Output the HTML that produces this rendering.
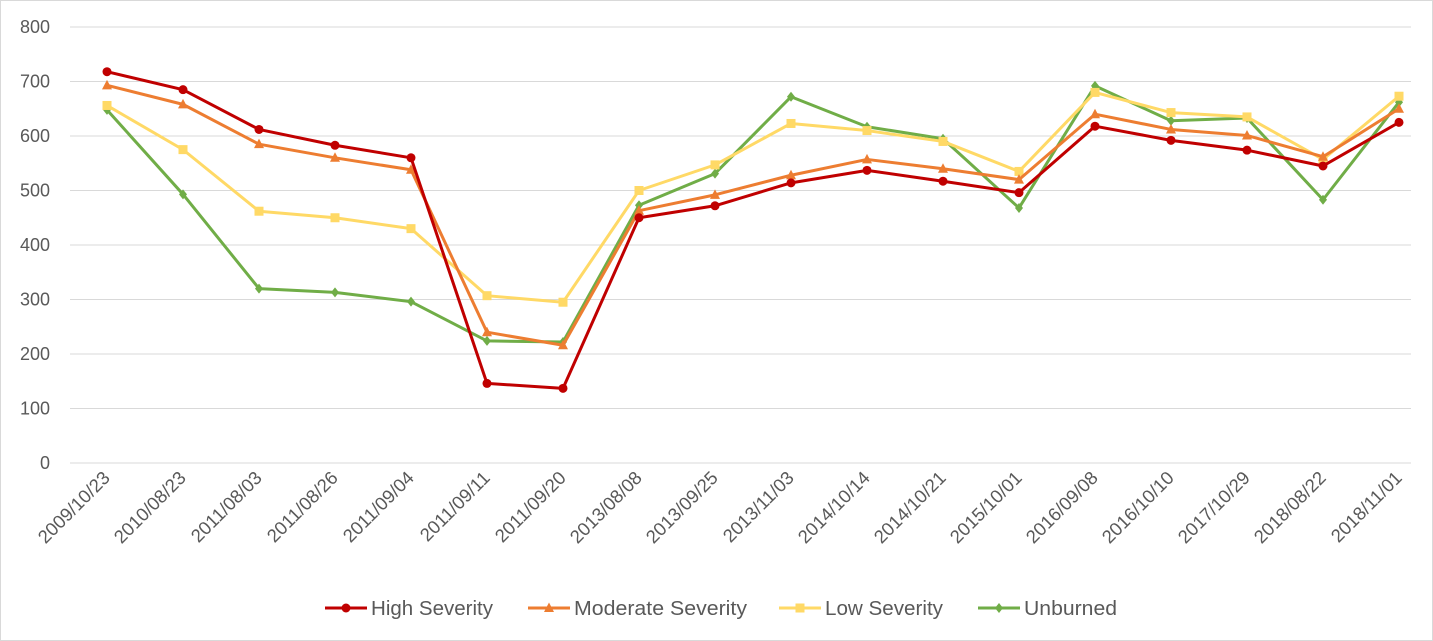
<!DOCTYPE html>
<html><head><meta charset="utf-8"><style>
body{margin:0;background:#fff;}
svg{display:block;font-family:"Liberation Sans",sans-serif;}
</style></head><body>
<svg id="chart" width="1433" height="641">
<rect x="0.5" y="0.5" width="1432" height="640" fill="#fff" stroke="#d9d9d9"/>
<g id="grid"></g><g id="xlab"></g><g id="series"></g><g id="legend"></g>
</svg>
<script>
const categories=["2009/10/23","2010/08/23","2011/08/03","2011/08/26","2011/09/04","2011/09/11","2011/09/20","2013/08/08","2013/09/25","2013/11/03","2014/10/14","2014/10/21","2015/10/01","2016/09/08","2016/10/10","2017/10/29","2018/08/22","2018/11/01"];
const highSeverity=[718,685,612,583,560,146,137,450,472,514,537,517,496,618,592,574,545,625];
const moderateSeverity=[693,658,585,560,538,240,216,463,492,528,557,540,520,640,612,601,562,650];
const lowSeverity=[656,575,462,450,430,307,295,500,547,623,610,590,535,680,643,635,557,673];
const unburned=[648,493,320,313,296,224,222,473,531,672,617,595,468,692,628,633,483,662];
const yTicks=[0,100,200,300,400,500,600,700,800];
const seriesNames=["High Severity","Moderate Severity","Low Severity","Unburned"];
const NS="http://www.w3.org/2000/svg";
function mk(t,a,p){const e=document.createElementNS(NS,t);for(const k in a)e.setAttribute(k,a[k]);p.appendChild(e);return e;}
const x=i=>107+i*(1399-107)/(categories.length-1);
const y=v=>463-v*(463-27)/800;
const grid=document.getElementById('grid');
yTicks.forEach(t=>{
 const l=mk('line',{x1:70,x2:1411,y1:y(t),y2:y(t),stroke:'#d9d9d9','stroke-width':1},grid);
 
 
 const tx=mk('text',{x:50,y:y(t)+6,'text-anchor':'end','font-size':18,fill:'#595959'},grid);
 tx.textContent=t;
 
 
});
const xl=document.getElementById('xlab');
categories.forEach((c,i)=>{
 const ax=x(i)+4, ay=479;
 const tx=mk('text',{x:ax,y:ay,'text-anchor':'end','font-size':18.5,fill:'#595959',transform:`rotate(-45 ${ax} ${ay})`},xl);
 tx.textContent=c;
 
 
});
const colors=["#C00000","#ED7D31","#FFD966","#70AD47"];
const data=[highSeverity,moderateSeverity,lowSeverity,unburned];
const shapes=["circle","triangle","square","diamond"];
function marker(s,cx,cy,col,p){
 let e;
 if(s==="circle")e=mk('circle',{cx,cy,r:4.5,fill:col},p);
 else if(s==="square")e=mk('rect',{x:cx-4.5,y:cy-4.5,width:9,height:9,fill:col},p);
 else if(s==="triangle")e=mk('polygon',{points:`${cx},${cy-5.5} ${cx+5},${cy+4} ${cx-5},${cy+4}`,fill:col},p);
 else e=mk('polygon',{points:`${cx},${cy-5} ${cx+4},${cy} ${cx},${cy+5} ${cx-4},${cy}`,fill:col},p);
 return e;
}
const sg=document.getElementById('series');
[3,2,1,0].forEach(k=>{
 const g=mk('g',{},sg);
 
 
 const pl=mk('polyline',{points:data[k].map((v,i)=>x(i)+','+y(v)).join(' '),fill:'none',stroke:colors[k],'stroke-width':3,'stroke-linejoin':'round'},g);
 
 
 data[k].forEach((v,i)=>{
  const m=marker(shapes[k],x(i),y(v),colors[k],g);
  
  
 });
});
const lg=document.getElementById('legend');
const lx=[325,528,779,978];
const lw=[122,173,118,93];
seriesNames.forEach((n,k)=>{
 const g=mk('g',{},lg);
 
 
 mk('line',{x1:lx[k],x2:lx[k]+42,y1:608,y2:608,stroke:colors[k],'stroke-width':3},g);
 marker(shapes[k],lx[k]+21,608,colors[k],g);
 const t=mk('text',{x:lx[k]+46,y:615,'font-size':20,fill:'#595959',textLength:lw[k],lengthAdjust:'spacingAndGlyphs'},g);
 t.textContent=n;
});
</script>
</body></html>
